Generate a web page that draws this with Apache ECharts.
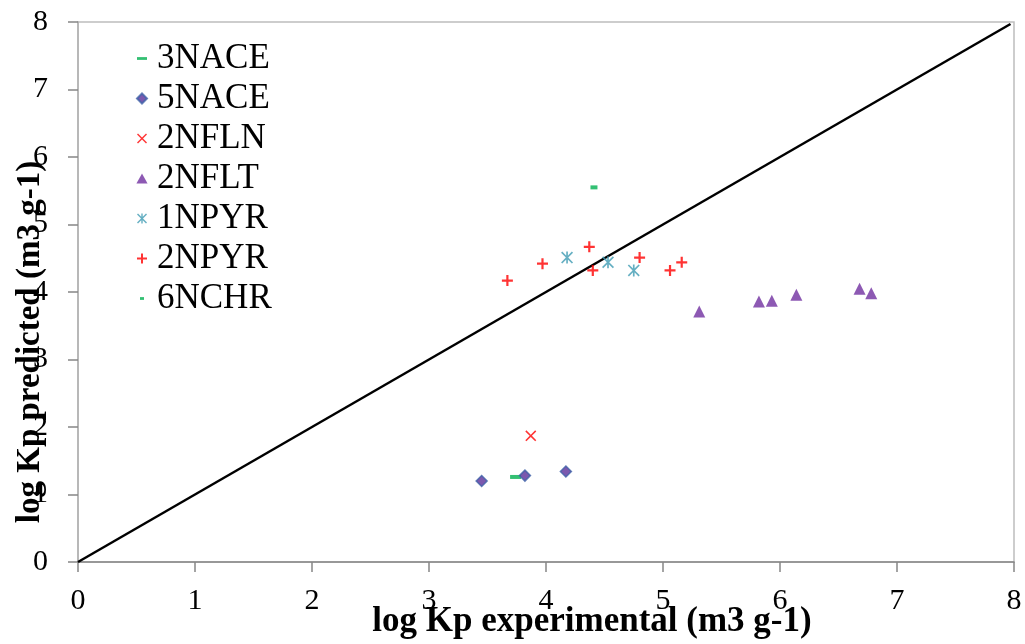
<!DOCTYPE html>
<html>
<head>
<meta charset="utf-8">
<script src="https://cdn.jsdelivr.net/npm/echarts@6/dist/echarts.min.js"></script>
<style>html,body{margin:0;padding:0;background:#fff}#c{width:1025px;height:644px}</style>
</head>
<body>
<div id="c"></div>
<script>
// Data: [log Kp experimental, log Kp predicted]
var seriesNames = ['3NACE', '5NACE', '2NFLN', '2NFLT', '1NPYR', '2NPYR', '6NCHR'];
var nace3 = [[3.74, 1.26]];
var nace5 = [[3.45, 1.20], [3.82, 1.28], [4.17, 1.34]];
var nfln2 = [[3.87, 1.87]];
var nflt2 = [[5.31, 3.71], [5.82, 3.86], [5.93, 3.87], [6.14, 3.96], [6.68, 4.05], [6.78, 3.98]];
var npyr1 = [[4.18, 4.51], [4.53, 4.44], [4.75, 4.32]];
var npyr2 = [[3.67, 4.17], [3.97, 4.42], [4.37, 4.67], [4.40, 4.32], [4.80, 4.51], [5.06, 4.32], [5.16, 4.44]];
var nchr6 = [[4.41, 5.55]];
var identityLine = [[0, 0], [7.97, 7.97]];
var xTicks = [0, 1, 2, 3, 4, 5, 6, 7, 8];
var yTicks = [0, 1, 2, 3, 4, 5, 6, 7, 8];
var xTitle = 'log Kp experimental (m3 g-1)';
var yTitle = 'log Kp predicted (m3 g-1)';

var P_PLUS = 'path://M4,0H6V4H10V6H6V10H4V6H0V4H4Z';
var P_X = 'path://M1,0L5,4L9,0L10,1L6,5L10,9L9,10L5,6L1,10L0,9L4,5L0,1Z';
var P_AST = 'path://M1,0L5,4L9,0L10,1L6,5L10,9L9,10L5,6L1,10L0,9L4,5L0,1Z M4.3,0H5.7V10H4.3Z';
var P_DASH = 'path://M0,0M10,10M0,3.6H10V6.4H0Z';
var P_DASH_S = 'path://M0,0M10,10M3,3.6H7V6.4H3Z';
var P_DIAM = 'path://M5,0L10,5L5,10L0,5Z';
var P_TRI = 'path://M5,0L10,9L0,9Z';

var FONT = 'Liberation Serif';
var chart = echarts.init(document.getElementById('c'));
chart.setOption({
  animation: false,
  backgroundColor: '#fff',
  grid: { left: 78, right: 11, top: 22, bottom: 82, show: true, borderColor: '#bdbdbd', borderWidth: 1.5 },
  xAxis: {
    type: 'value', min: xTicks[0], max: xTicks[xTicks.length - 1], interval: 1,
    splitLine: { show: false },
    axisLine: { onZero: false, lineStyle: { color: '#868686', width: 1.5 } },
    axisTick: { inside: false, length: 10, lineStyle: { color: '#868686', width: 1.5 } },
    axisLabel: { margin: 24, fontFamily: FONT, fontSize: 30, color: '#000' }
  },
  yAxis: {
    type: 'value', min: yTicks[0], max: yTicks[yTicks.length - 1], interval: 1,
    splitLine: { show: false },
    axisLine: { onZero: false, lineStyle: { color: '#b0b0b0', width: 1.5 } },
    axisTick: { inside: false, length: 10, lineStyle: { color: '#868686', width: 1.5 } },
    axisLabel: { margin: 30, fontFamily: FONT, fontSize: 30, color: '#000' }
  },
  legend: {
    orient: 'vertical', left: 131, top: 36, itemWidth: 20, itemHeight: 10, itemGap: 5,
    textStyle: { fontFamily: FONT, fontSize: 35, color: '#000' },
    data: [
      { name: '3NACE', icon: P_DASH },
      { name: '5NACE', icon: P_DIAM },
      { name: '2NFLN', icon: P_X },
      { name: '2NFLT', icon: P_TRI },
      { name: '1NPYR', icon: P_AST },
      { name: '2NPYR', icon: P_PLUS },
      { name: '6NCHR', icon: P_DASH_S }
    ]
  },
  graphic: [
    { type: 'text', x: 592, y: 622, style: { text: xTitle, font: 'bold 35px "Liberation Serif"', fill: '#000', align: 'center', verticalAlign: 'middle' } },
    { type: 'text', x: 30, y: 342, rotation: Math.PI / 2, style: { text: yTitle, font: 'bold 33px "Liberation Serif"', fill: '#000', align: 'center', verticalAlign: 'middle' } }
  ],
  series: [
    { name: 'identity', type: 'line', data: identityLine, symbol: 'none', lineStyle: { color: '#000', width: 2.5 }, z: 1, silent: true },
    { name: seriesNames[0], type: 'scatter', data: nace3, symbol: 'rect', symbolSize: [11, 4], itemStyle: { color: '#00B050' }, z: 3 },
    { name: seriesNames[1], type: 'scatter', data: nace5, symbol: 'diamond', symbolSize: 11, itemStyle: { color: '#5a2f9a', borderColor: '#3f62a8', borderWidth: 1.5 }, z: 3 },
    { name: seriesNames[2], type: 'scatter', data: nfln2, symbol: P_X, symbolSize: 11, itemStyle: { color: '#FF0000' }, z: 3 },
    { name: seriesNames[3], type: 'scatter', data: nflt2, symbol: 'triangle', symbolSize: 12, itemStyle: { color: '#7030A0' }, z: 3 },
    { name: seriesNames[4], type: 'scatter', data: npyr1, symbol: P_AST, symbolSize: 12, itemStyle: { color: '#3F9BB3' }, z: 3 },
    { name: seriesNames[5], type: 'scatter', data: npyr2, symbol: P_PLUS, symbolSize: 11, itemStyle: { color: '#FF0000' }, z: 3 },
    { name: seriesNames[6], type: 'scatter', data: nchr6, symbol: 'rect', symbolSize: [7, 4], itemStyle: { color: '#00B050' }, z: 3 }
  ]
});
</script>
</body>
</html>
